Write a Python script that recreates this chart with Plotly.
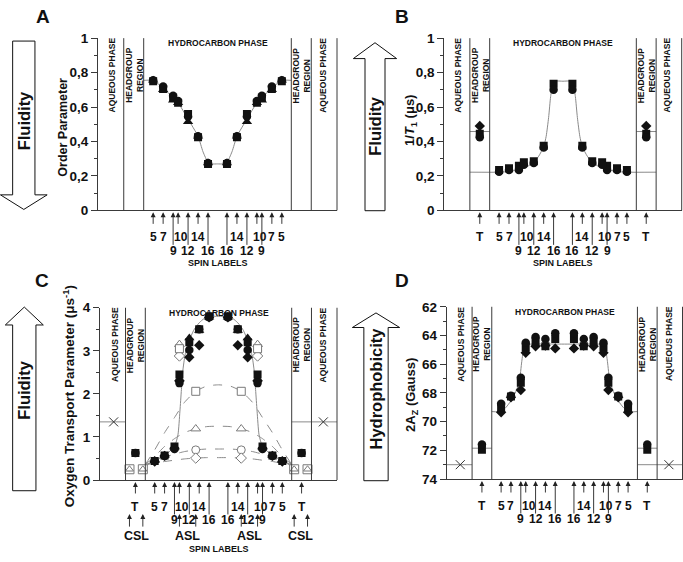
import plotly.graph_objects as go

W, H = 683, 562
FONT = "Liberation Sans"
LC = "#3a3a3a"      # frame / boundary lines
FITC = "#8a8a8a"    # fitted curves
MK = "#111111"      # filled markers
OPEN = "#7a7a7a"    # open markers

# ---------------- depth coordinate (carbon position of spin label) -------------
CENTER = 17.9                      # bilayer centre; right leaflet is mirrored
SPIN = [5, 7, 9, 10, 12, 14, 16]
ROW1 = [5, 7, 10, 14]
ROW2 = [9, 12, 16]
T_POS = 1.1
CSL_POS = [-0.1, 2.6]
ASL_POS = [10, 13.3]
AQ_POS = -3.3
BOUND = [-0.9, 3.1]                # aqueous|headgroup, headgroup|hydrocarbon
XRANGE = [-6.06, 41.86]

# ---------------- Panel A : order parameter ----------------
A_circle = [0.755, 0.72, 0.665, 0.635, 0.545, 0.43, 0.275]
A_square = [0.75, 0.705, 0.655, 0.625, 0.56, 0.425, 0.27]
A_triangle = [0.755, 0.70, 0.64, 0.625, 0.515, 0.43, 0.275]
A_fit_x = [3.1, 5, 7, 9, 10, 12, 14, 15, 16, 16.8, 17.9]
A_fit_y = [0.755, 0.755, 0.71, 0.655, 0.625, 0.53, 0.43, 0.34, 0.28, 0.27, 0.27]

# ---------------- Panel B : 1/T1 ----------------
B_circle = [0.225, 0.235, 0.235, 0.265, 0.275, 0.365, 0.70]
B_square = [0.235, 0.245, 0.26, 0.28, 0.285, 0.375, 0.735]
B_T = {"circle": 0.425, "square": 0.445, "diamond": 0.49}
B_hg = 0.458
B_fit_x = [-0.9, 5, 7, 9, 10, 11, 12, 13, 14, 14.5, 15, 15.4, 15.8, 16.3, 17.9]
B_fit_y = [0.222, 0.222, 0.226, 0.236, 0.245, 0.26, 0.28, 0.315, 0.37, 0.43, 0.54, 0.66, 0.73, 0.75, 0.75]

# ---------------- Panel C : oxygen transport parameter ----------------
C_circle = [0.44, 0.56, 0.72, 2.25, 3.02, 3.50, 3.78]
C_square = [0.44, 0.57, 0.78, 2.45, 3.20, 3.50, 3.80]
C_triangle = [0.45, 0.57, 0.76, 2.35, 3.30, 3.47, 3.78]
C_diamond = [0.43, 0.56, 0.74, 2.30, 2.85, 3.13, 3.78]
C_T = 0.63
C_CSL = 0.25
C_AQ = 1.35
C_open_square = [3.05, 2.06]
C_open_triangle = [3.15, 1.19]
C_open_circle = [3.00, 0.70]
C_open_diamond = [2.88, 0.51]
C_fit_x = [3.1, 5, 7, 9, 9.7, 10.1, 10.4, 10.7, 11.1, 11.6, 12.3, 13.0, 14.0, 15.0, 16.0, 17.9]
C_fit_y = [0.33, 0.44, 0.57, 0.78, 1.05, 1.6, 2.1, 2.55, 2.88, 3.12, 3.33, 3.5, 3.65, 3.75, 3.8, 3.8]
C_dash_x = [3.1, 5, 7, 9, 11, 13.3, 15.5, 17.9]
C_dash_square = [0.36, 0.7, 1.1, 1.45, 1.8, 2.06, 2.18, 2.21]
C_dash_triangle = [0.36, 0.55, 0.78, 0.96, 1.1, 1.19, 1.24, 1.25]
C_dash_circle = [0.36, 0.43, 0.53, 0.60, 0.66, 0.70, 0.72, 0.72]
C_dash_diamond = [0.36, 0.39, 0.43, 0.46, 0.49, 0.51, 0.52, 0.52]

# ---------------- Panel D : 2Az ----------------
D_circle = [68.75, 68.2, 66.95, 64.5, 64.1, 64.25, 63.85]
D_square = [69.0, 68.25, 67.3, 64.8, 64.4, 64.75, 64.25]
D_diamond = [69.35, 68.3, 67.8, 65.2, 64.75, 64.7, 64.9]
D_T = {"circle": 71.6, "square": 71.95, "diamond": 71.8}
D_hg = 71.85
D_aq = 73.0
D_fit_x = [3.1, 5, 6, 7, 8, 8.7, 9.2, 9.6, 10.2, 11, 17.9]
D_fit_y = [69.3, 69.3, 69.0, 68.55, 67.9, 67.2, 65.8, 64.95, 64.65, 64.6, 64.6]

# ---------------- tick labels ----------------
TICKS_01 = [0, 0.2, 0.4, 0.6, 0.8, 1]
TICKTEXT_01 = ["0", "0,2", "0,4", "0,6", "0,8", "1"]
TICKS_C = [0, 1, 2, 3, 4]
TICKS_D = [62, 64, 66, 68, 70, 72, 74]

# ---------------- panel geometry (pixels) ----------------
PANELS = {
    1: dict(x=(98, 337), y=(32, 209)),
    2: dict(x=(444.3, 681.7), y=(32, 209)),
    3: dict(x=(100, 337), y=(309, 486)),
    4: dict(x=(446.7, 682.5), y=(308, 485)),
}


def mir(xs):
    return [2 * CENTER - x for x in xs]


def both(xs):
    return list(xs) + mir(xs)


def full_curve(xs, ys):
    rx = [2 * CENTER - x for x in reversed(xs[:-1])]
    ry = list(reversed(ys[:-1]))
    return list(xs) + rx, list(ys) + ry


def ids(i):
    return ("x" if i == 1 else f"x{i}"), ("y" if i == 1 else f"y{i}")


def PX(p):
    return p / W


def PY(p):
    return 1 - p / H


fig = go.Figure()
annotations = []
shapes = []


def add_markers(i, xs, ys, symbol, size=8, color=MK, fill=None, lw=0):
    xr, yr = ids(i)
    fig.add_trace(go.Scatter(
        x=xs, y=ys, xaxis=xr, yaxis=yr, mode="markers", hoverinfo="skip",
        marker=dict(symbol=symbol, size=size, color=fill if fill else color,
                    line=dict(color=color, width=lw))))


def add_line(i, xs, ys, dash="solid", shape="spline", color=FITC, width=1):
    xr, yr = ids(i)
    fig.add_trace(go.Scatter(
        x=xs, y=ys, xaxis=xr, yaxis=yr, mode="lines", hoverinfo="skip",
        line=dict(color=color, width=width, dash=dash, shape=shape,
                  smoothing=0.6 if shape == "spline" else None)))


def text(x, y, s, size, xref="paper", angle=0, xanchor="center", yanchor="middle", xshift=0):
    annotations.append(dict(x=x, y=y, xref=xref, yref="paper", text=s, showarrow=False,
                            textangle=angle, xanchor=xanchor, yanchor=yanchor, xshift=xshift,
                            font=dict(family=FONT, size=size, color="#111", weight="bold")))


def spin_arrow(i, u, tip, tail):
    xr, _ = ids(i)
    annotations.append(dict(x=u, y=PY(tip), xref=xr, yref="paper", text="", showarrow=True,
                            ax=0, ay=tail - tip, arrowhead=2, arrowsize=1.1, arrowwidth=0.9,
                            arrowcolor="#222", standoff=0))


def big_arrow(cx, sw, hw, tip, base, tail):
    pts = [(cx, tip), (cx + hw / 2, base), (cx + sw / 2, base), (cx + sw / 2, tail),
           (cx - sw / 2, tail), (cx - sw / 2, base), (cx - hw / 2, base)]
    path = "M " + " L ".join(f"{PX(x):.5f},{PY(y):.5f}" for x, y in pts) + " Z"
    shapes.append(dict(type="path", path=path, xref="paper", yref="paper",
                       line=dict(color="#111", width=1), fillcolor="white"))


# ---------------- axes ----------------
YCONF = {
    1: dict(range=[0, 1], tickvals=TICKS_01, ticktext=TICKTEXT_01, minor=0.1),
    2: dict(range=[0, 1], tickvals=TICKS_01, ticktext=TICKTEXT_01, minor=0.1),
    3: dict(range=[0, 4], tickvals=TICKS_C, ticktext=[str(v) for v in TICKS_C], minor=0.5),
    4: dict(range=[74, 62], tickvals=TICKS_D, ticktext=[str(v) for v in TICKS_D], minor=1),
}
layout_axes = {}
for i, g in PANELS.items():
    xr, yr = ids(i)
    xn = "xaxis" if i == 1 else f"xaxis{i}"
    yn = "yaxis" if i == 1 else f"yaxis{i}"
    yc = YCONF[i]
    layout_axes[xn] = dict(domain=[PX(g["x"][0]), PX(g["x"][1])], range=XRANGE, anchor=yr,
                           showline=True, linecolor=LC, linewidth=1, showgrid=False,
                           zeroline=False, showticklabels=False, ticks="", fixedrange=True)
    layout_axes[yn] = dict(domain=[PY(g["y"][1]), PY(g["y"][0])], range=yc["range"], anchor=xr,
                           showline=True, linecolor=LC, linewidth=1, showgrid=False,
                           zeroline=False, ticks="outside", ticklen=6, tickwidth=1, tickcolor=LC,
                           tickvals=yc["tickvals"], ticktext=yc["ticktext"],
                           tickfont=dict(family=FONT, size=13.5, color="#111", weight="bold"),
                           minor=dict(ticks="outside", ticklen=3, tickwidth=1, tickcolor=LC,
                                      dtick=yc["minor"]),
                           fixedrange=True)
    # boundary lines and right frame
    for b in both(BOUND):
        shapes.append(dict(type="line", xref=xr, yref=f"{yr} domain", x0=b, x1=b, y0=0, y1=1,
                           line=dict(color=LC, width=1)))
    shapes.append(dict(type="line", xref=f"{xr} domain", yref=f"{yr} domain", x0=1, x1=1,
                       y0=0, y1=1, line=dict(color=LC, width=1)))
    # region labels
    top = g["y"][0]
    yc_px = top + 38
    aq_c = (XRANGE[0] + BOUND[0]) / 2 + 0.3
    hg_c = (BOUND[0] + BOUND[1]) / 2
    for xc in [aq_c, 2 * CENTER - aq_c]:
        text(xc, PY(yc_px), "AQUEOUS PHASE", 8.5, xref=xr, angle=-90)
    for xc in [hg_c, 2 * CENTER - hg_c]:
        text(xc, PY(yc_px), "HEADGROUP<br>REGION", 8.5, xref=xr, angle=-90)
    text(CENTER, PY(top + 5), "HYDROCARBON PHASE", 8.5, xref=xr)

fig.update_layout(**layout_axes)

# ---------------- Panel A ----------------
fx, fy = full_curve(A_fit_x, A_fit_y)
add_line(1, fx, fy)
add_markers(1, both(SPIN), A_triangle * 2, "triangle-up", 9)
add_markers(1, both(SPIN), A_square * 2, "square", 8)
add_markers(1, both(SPIN), A_circle * 2, "circle", 8.5)

# ---------------- Panel B ----------------
add_line(2, [BOUND[0], BOUND[1]], [B_hg, B_hg])
add_line(2, [mir(BOUND)[1], mir(BOUND)[0]], [B_hg, B_hg])
fx, fy = full_curve(B_fit_x, B_fit_y)
add_line(2, fx, fy)
add_markers(2, [T_POS] + mir([T_POS]), [B_T["diamond"]] * 2, "diamond", 8)
add_markers(2, [T_POS] + mir([T_POS]), [B_T["square"]] * 2, "square", 8)
add_markers(2, [T_POS] + mir([T_POS]), [B_T["circle"]] * 2, "circle", 8.5)
add_markers(2, both(SPIN), B_square * 2, "square", 8)
add_markers(2, both(SPIN), B_circle * 2, "circle", 8.5)

# ---------------- Panel C ----------------
add_line(3, [XRANGE[0], BOUND[0]], [C_AQ, C_AQ])
add_line(3, [mir(BOUND)[1], XRANGE[1]], [C_AQ, C_AQ])
for dset in [C_dash_square, C_dash_triangle, C_dash_circle, C_dash_diamond]:
    fx, fy = full_curve(C_dash_x, dset)
    add_line(3, fx, fy, dash="dash")
fx, fy = full_curve(C_fit_x, C_fit_y)
add_line(3, fx, fy)
add_markers(3, [AQ_POS] + mir([AQ_POS]), [C_AQ] * 2, "x-thin", 9, color="#333", lw=1)
add_markers(3, both(CSL_POS), [C_CSL] * 4, "square", 9, color=OPEN, fill="white", lw=1)
add_markers(3, both(CSL_POS), [C_CSL] * 4, "triangle-up", 7, color=OPEN, fill="white", lw=1)
add_markers(3, [T_POS] + mir([T_POS]), [C_T] * 2, "square", 8)
add_markers(3, [T_POS] + mir([T_POS]), [C_T] * 2, "circle", 8.5)
add_markers(3, both(SPIN), C_diamond * 2, "diamond", 8)
add_markers(3, both(SPIN), C_triangle * 2, "triangle-up", 9)
add_markers(3, both(SPIN), C_square * 2, "square", 8)
add_markers(3, both(SPIN), C_circle * 2, "circle", 8.5)
add_markers(3, both(ASL_POS), C_open_circle * 2, "circle", 8, color=OPEN, fill="white", lw=1)
add_markers(3, both(ASL_POS), C_open_diamond * 2, "diamond", 8, color=OPEN, fill="white", lw=1)
add_markers(3, both(ASL_POS), C_open_triangle * 2, "triangle-up", 8.5, color=OPEN, fill="white", lw=1)
add_markers(3, both(ASL_POS), C_open_square * 2, "square", 8, color=OPEN, fill="white", lw=1)

# ---------------- Panel D ----------------
add_line(4, [XRANGE[0], BOUND[0]], [D_aq, D_aq])
add_line(4, [mir(BOUND)[1], XRANGE[1]], [D_aq, D_aq])
add_line(4, [BOUND[0], BOUND[1]], [D_hg, D_hg])
add_line(4, [mir(BOUND)[1], mir(BOUND)[0]], [D_hg, D_hg])
fx, fy = full_curve(D_fit_x, D_fit_y)
add_line(4, fx, fy)
add_markers(4, [AQ_POS] + mir([AQ_POS]), [D_aq] * 2, "x-thin", 9, color="#333", lw=1)
add_markers(4, [T_POS] + mir([T_POS]), [D_T["square"]] * 2, "square", 8)
add_markers(4, [T_POS] + mir([T_POS]), [D_T["circle"]] * 2, "circle", 8.5)
add_markers(4, both(SPIN), D_diamond * 2, "diamond", 8)
add_markers(4, both(SPIN), D_square * 2, "square", 8)
add_markers(4, both(SPIN), D_circle * 2, "circle", 8.5)

# ---------------- spin label arrows and numbers ----------------
for i, g in PANELS.items():
    xr, _ = ids(i)
    ax = g["y"][1]
    for n in ROW1:
        for u in [n, 2 * CENTER - n]:
            spin_arrow(i, u, ax + 2, ax + 15)
            text(u, PY(ax + 27.5), str(n), 12, xref=xr, xshift=3 if n == 10 else 0)
    for n in ROW2:
        for u in [n, 2 * CENTER - n]:
            spin_arrow(i, u, ax + 2, ax + 36)
            text(u, PY(ax + 41.5), str(n), 12, xref=xr)
    if i in (2, 3, 4):
        for u in [T_POS, 2 * CENTER - T_POS]:
            spin_arrow(i, u, ax + 2, ax + 15)
            text(u, PY(ax + 27.5), "T", 12, xref=xr)
    if i in (1, 2):
        text(CENTER, PY(ax + 54.5), "SPIN LABELS", 9, xref=xr)
    if i == 3:
        for grp, name in [(CSL_POS, "CSL"), (ASL_POS, "ASL")]:
            for side in [list(grp), mir(grp)]:
                for u in side:
                    spin_arrow(i, u, ax + 35, ax + 49)
                text(sum(side) / 2, PY(ax + 58), name, 12.5, xref=xr)
        text(CENTER, PY(ax + 71), "SPIN LABELS", 9, xref=xr)

# ---------------- big arrows, panel letters, axis titles ----------------
big_arrow(23.8, 22.3, 46.7, 208, 193, 35)          # A: down
big_arrow(375, 20, 43.3, 36.7, 53, 209.3)          # B: up
big_arrow(24.3, 23.3, 38, 308.3, 326.7, 497)       # C: up
big_arrow(376, 24.3, 47.3, 314.3, 329.3, 486.7)    # D: up
text(PX(24), PY(117.5), "Fluidity", 16.5, angle=-90)
text(PX(375), PY(123), "Fluidity", 16.5, angle=-90)
text(PX(24.3), PY(394), "Fluidity", 16.5, angle=-90)
text(PX(376), PY(392), "Hydrophobicity", 16.5, angle=-90)

text(PX(43), PY(9.5), "A", 19)
text(PX(402), PY(10), "B", 19)
text(PX(42), PY(281), "C", 19)
text(PX(402), PY(281), "D", 19)

text(PX(63), PY(124), "Order Parameter", 12.5, angle=-90)
text(PX(411), PY(117), "1/<i>T</i><sub>1</sub> (μs)", 13, angle=-90)
text(PX(69), PY(400), "Oxygen Transport Parameter (μs<sup>-1</sup>)", 13.5, angle=-90)
text(PX(411.5), PY(398), "2A<sub>Z</sub> (Gauss)", 13, angle=-90)

fig.update_layout(width=W, height=H, margin=dict(l=0, r=0, t=0, b=0),
                  paper_bgcolor="white", plot_bgcolor="white", showlegend=False,
                  annotations=annotations, shapes=shapes,
                  font=dict(family=FONT, color="#111"))

fig.write_html("out.html")
